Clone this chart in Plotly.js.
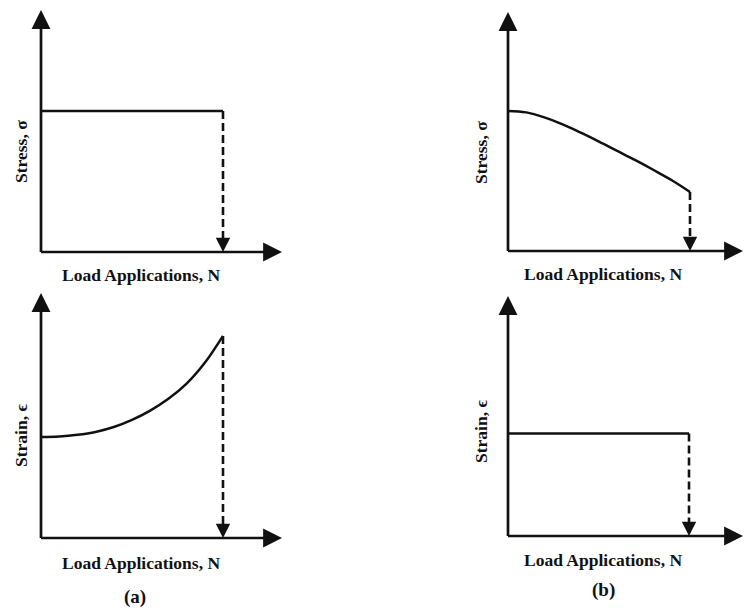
<!DOCTYPE html>
<html>
<head>
<meta charset="utf-8">
<script src="https://cdn.plot.ly/plotly-3.0.1.min.js"></script>
<style>
  html, body { margin: 0; padding: 0; background: #fff; }
  #chart { width: 744px; height: 610px; }
</style>
</head>
<body>
<div id="chart"></div>
<script>
// Load applications, normalised so that failure occurs at N = 1
const loadN  = [0, 0.1, 0.2, 0.3, 0.4, 0.5, 0.6, 0.7, 0.8, 0.9, 1.0];
const constN = [0, 1];

// (a) controlled-stress loading: constant stress, strain grows until failure
const stressA = [5.83, 5.83];
const strainA = [4.12, 4.14, 4.21, 4.33, 4.53, 4.82, 5.20, 5.68, 6.30, 7.15, 8.25];

// (b) controlled-strain loading: constant strain, stress decays until failure
const stressB = [5.86, 5.80, 5.59, 5.30, 4.95, 4.58, 4.19, 3.80, 3.39, 2.96, 2.47];
const strainB = [4.27, 4.27];

const failureN = 1;

const xLabel      = 'Load Applications, N';
const stressLabel = 'Stress, σ';
const strainLabel = 'Strain, ϵ';
const caseLabels  = ['(a)', '(b)'];

// ---------------------------------------------------------------------------
const W = 744, H = 610;
const INK = '#111';
const FONT = 'Liberation Serif, Times New Roman, serif';

// Frame of each panel in pixels: origin, arrow tips and failure position
const panels = [
  { ox: 41,  oy: 252, xTip: 282, yTip: 10,  nf: 223, n: constN, v: stressA, ylab: stressLabel, lx: 141, ly: 275, yl: [21, 152] },
  { ox: 508, oy: 251, xTip: 743, yTip: 12,  nf: 690, n: loadN,  v: stressB, ylab: stressLabel, lx: 603, ly: 274, yl: [481, 153] },
  { ox: 41,  oy: 538, xTip: 282, yTip: 293, nf: 223, n: loadN,  v: strainA, ylab: strainLabel, lx: 141, ly: 563, yl: [21, 436] },
  { ox: 508, oy: 536, xTip: 743, yTip: 296, nf: 689, n: constN, v: strainB, ylab: strainLabel, lx: 603, ly: 560, yl: [481, 432] }
];
const casePos = [[135, 597], [603, 590]];

const traces = [];
const annotations = [];
const layout = {
  width: W, height: H,
  margin: { l: 0, r: 0, t: 0, b: 0 },
  paper_bgcolor: '#fff', plot_bgcolor: '#fff',
  showlegend: false, hovermode: false,
  annotations: annotations
};

panels.forEach((p, i) => {
  const sfx = i === 0 ? '' : String(i + 1);
  const xa = 'x' + sfx, ya = 'y' + sfx;
  const pxPerN = (p.nf - p.ox) / failureN;
  const pxPerV = (p.oy - p.yTip) / 10;

  const x0 = p.ox - 12, x1 = Math.min(p.xTip + 4, W);
  const yb = p.oy + 10, yt = Math.max(p.yTip - 4, 0);

  layout['xaxis' + sfx] = {
    domain: [x0 / W, x1 / W],
    range: [(x0 - p.ox) / pxPerN, (x1 - p.ox) / pxPerN],
    visible: false, fixedrange: true, anchor: ya
  };
  layout['yaxis' + sfx] = {
    domain: [1 - yb / H, 1 - yt / H],
    range: [-(yb - p.oy) / pxPerV, (p.oy - yt) / pxPerV],
    visible: false, fixedrange: true, anchor: xa
  };

  // response curve up to failure
  traces.push({
    x: p.n, y: p.v, xaxis: xa, yaxis: ya,
    type: 'scatter', mode: 'lines', cliponaxis: false,
    line: { color: INK, width: 2.5, shape: 'spline', smoothing: 1 }
  });

  // dashed drop line at failure
  const last = p.v[p.v.length - 1];
  const headV = 13 / pxPerV;
  traces.push({
    x: [failureN, failureN], y: [last, headV], xaxis: xa, yaxis: ya,
    type: 'scatter', mode: 'lines', cliponaxis: false,
    line: { color: INK, width: 2.6, dash: '8px,4px' }
  });
  annotations.push({
    xref: xa, yref: ya, axref: xa, ayref: ya,
    x: failureN, y: 0, ax: failureN, ay: headV + 2 / pxPerV,
    text: '', showarrow: true, arrowhead: 2, arrowsize: 1.15,
    arrowwidth: 2.5, arrowcolor: INK
  });

  // axis arrows
  const tailN = -1.5 / pxPerN, tailV = -1.5 / pxPerV;
  annotations.push({
    xref: xa, yref: ya, axref: xa, ayref: ya,
    x: (p.xTip - p.ox) / pxPerN, y: 0, ax: tailN, ay: 0,
    text: '', showarrow: true, arrowhead: 2, arrowsize: 1.4,
    arrowwidth: 2.7, arrowcolor: INK
  });
  annotations.push({
    xref: xa, yref: ya, axref: xa, ayref: ya,
    x: 0, y: 10, ax: 0, ay: tailV,
    text: '', showarrow: true, arrowhead: 2, arrowsize: 1.4,
    arrowwidth: 2.7, arrowcolor: INK
  });

  // axis labels
  annotations.push({
    xref: 'paper', yref: 'paper', x: p.lx / W, y: 1 - p.ly / H,
    xanchor: 'center', yanchor: 'middle', showarrow: false,
    text: xLabel, font: { family: FONT, size: 17.5, color: INK, weight: 'bold' }
  });
  annotations.push({
    xref: 'paper', yref: 'paper', x: p.yl[0] / W, y: 1 - p.yl[1] / H,
    xanchor: 'center', yanchor: 'middle', showarrow: false, textangle: -90,
    text: p.ylab, font: { family: FONT, size: 17.5, color: INK, weight: 'bold' }
  });
});

caseLabels.forEach((t, i) => {
  annotations.push({
    xref: 'paper', yref: 'paper', x: casePos[i][0] / W, y: 1 - casePos[i][1] / H,
    xanchor: 'center', yanchor: 'middle', showarrow: false,
    text: t, font: { family: FONT, size: 19, color: INK, weight: 'bold' }
  });
});

Plotly.newPlot('chart', traces, layout, { staticPlot: true, displayModeBar: false });
</script>
</body>
</html>
